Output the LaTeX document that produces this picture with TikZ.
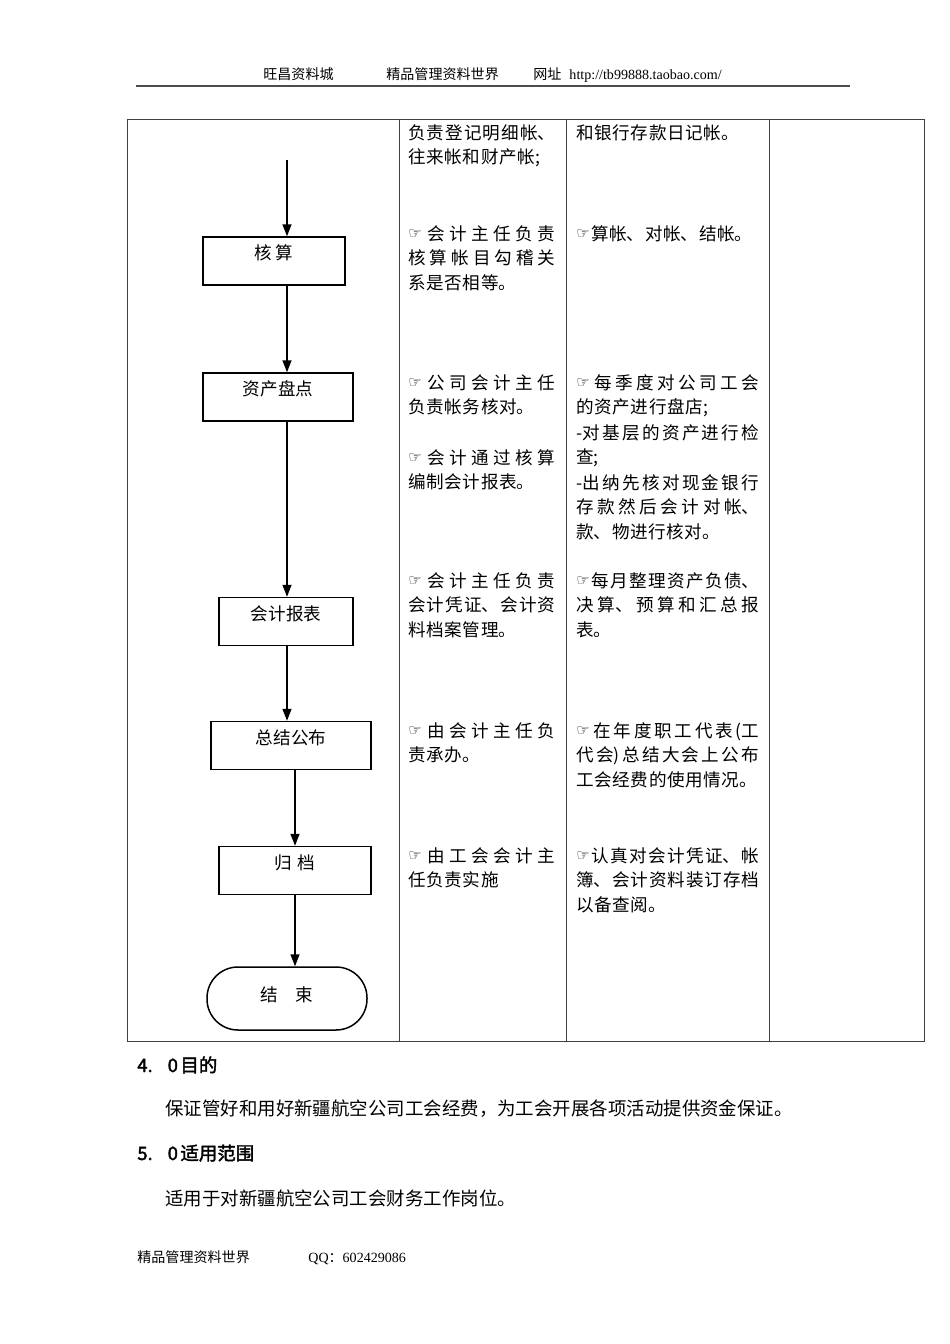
\documentclass[tikz,border=0pt]{standalone}
\usepackage{fontspec}
\setmainfont{Noto Sans CJK SC}
\newfontfamily\handfont{DejaVu Sans}
\newfontfamily\romfont{Liberation Serif}
\newfontfamily\headcjk{Noto Sans CJK SC}[FakeBold=2]
\usetikzlibrary{arrows.meta}
\XeTeXlinebreaklocale "zh"
\XeTeXlinebreakskip=0pt plus 40pt
\newcommand\hand{\raisebox{0.6pt}{\handfont\fontsize{8.5pt}{8.5pt}\selectfont ☞}\hskip 0.8pt plus 40pt\relax}
\newcommand\cellfont{\fontsize{10pt}{14.2pt}\selectfont\XeTeXlinebreakskip=0.35pt plus 40pt\relax}
\newcommand\boxfont{\fontsize{10pt}{12pt}\selectfont\XeTeXlinebreakskip=1.5pt\relax}
\newcommand\smallfont{\fontsize{8pt}{9pt}\selectfont}
\newcommand\headfont{\headcjk\fontsize{10.5pt}{12pt}\selectfont}
\newcommand\bodyfont{\fontsize{10.5pt}{12pt}\selectfont}
\begin{document}
\begin{tikzpicture}
[
    x=0.2mm, y=-0.2mm,
    >={Triangle[width=1.8mm,length=2.4mm]},
    stepbox/.style={draw, line width=0.3mm, inner sep=0pt, text height=4.5mm, text depth=5.1mm, font=\boxfont},
    endbox/.style={stepbox, rounded corners=6.2mm, text height=6.9mm, text depth=5.7mm},
    colA/.style={anchor=base west, inner sep=0pt, text width=29.4mm, align=justify, font=\cellfont},
    colB/.style={colA, text width=36.6mm},
    plain/.style={anchor=base west, inner sep=0pt},
    tablerule/.style={line width=0.2mm, draw=black!75},
]
\useasboundingbox (0,0) rectangle (950,1344);
\node[plain, font=\smallfont] (shop) at (263,80) {旺昌资料城};
\node[plain, font=\smallfont] (world) at (386,80) {精品管理资料世界};
\node[plain, font=\smallfont] (site) at (533,80) {网址\hspace{1.6mm}{\romfont http://tb99888.taobao.com/}};
\draw[line width=0.4mm, black!70] (136,86) -- (850,86);
\draw[tablerule] (127,120) rectangle (924,1041);
\foreach \xcol in {399,566,769}
    \draw[tablerule] (\xcol,120) -- (\xcol,1041);
\coordinate (top) at (287,160);
\node[stepbox, minimum width=28.4mm] (hs) at (274,261) {核 算};
\node[stepbox, minimum width=30mm] (zcpd) at (278,397) {资产盘点};
\node[stepbox, minimum width=26.8mm] (kjbb) at (286,621.5) {会计报表};
\node[stepbox, minimum width=32mm] (zjgb) at (291,745.5) {总结公布};
\node[stepbox, minimum width=30.4mm] (gd) at (295,870.5) {归\hspace{1.2mm}档};
\node[endbox, minimum width=32mm] (js) at (287,998.5) {结\hspace{3.5mm}束};
\draw[->, line width=0.3mm] (top) -- (top |- hs.north);
\draw[->, line width=0.3mm] (hs.south -| top) -- (zcpd.north -| top);
\draw[->, line width=0.3mm] (zcpd.south -| top) -- (kjbb.north -| top);
\draw[->, line width=0.3mm] (kjbb.south -| top) -- (zjgb.north -| top);
\draw[->, line width=0.3mm] (zjgb.south -| gd.north) -- (gd.north);
\draw[->, line width=0.3mm] (gd.south) -- (gd.south |- js.north);
\node[colA] (a1) at (408,139) {负责登记明细帐、\linebreak 往来帐和财产帐;};
\node[colB] (b1) at (576,139) {和银行存款日记帐。};
\node[colA] (a2) at (408,240) {\hand 会计主任负责\linebreak 核算帐目勾稽关\linebreak 系是否相等。};
\node[colB] (b2) at (576,240) {\hand 算帐、对帐、结帐。};
\node[colA] (a3) at (408,389) {\hand 公司会计主任\linebreak 负责帐务核对。};
\node[colA] (a4) at (408,464) {\hand 会计通过核算\linebreak 编制会计报表。};
\node[colB] (b3) at (576,389) {\hand 每季度对公司工会\linebreak 的资产进行盘店;};
\node[colB] (b4) at (576,439) {-对基层的资产进行检\linebreak 查;};
\node[colB] (b5) at (576,489) {-出纳先核对现金银行\linebreak 存款然后会计对帐、\linebreak 款、物进行核对。};
\node[colA] (a5) at (408,587) {\hand 会计主任负责\linebreak 会计凭证、会计资\linebreak 料档案管理。};
\node[colB] (b6) at (576,587) {\hand 每月整理资产负债、\linebreak 决算、预算和汇总报\linebreak 表。};
\node[colA] (a6) at (408,737) {\hand 由会计主任负\linebreak 责承办。};
\node[colB] (b7) at (576,737) {\hand 在年度职工代表(工\linebreak 代会)总结大会上公布\linebreak 工会经费的使用情况。};
\node[colA] (a7) at (408,862) {\hand 由工会会计主\linebreak 任负责实施};
\node[colB] (b8) at (576,862) {\hand 认真对会计凭证、帐\linebreak 簿、会计资料装订存档\linebreak 以备查阅。};
\node[plain, font=\headfont] (aim) at (137,1072) {4.\hspace{3mm}0\hspace{0.5mm}目的};
\node[plain, font=\bodyfont] (aimtext) at (165,1115) {保证管好和用好新疆航空公司工会经费，为工会开展各项活动提供资金保证。};
\node[plain, font=\headfont] (range) at (137,1160) {5.\hspace{3mm}0\hspace{0.5mm}适用范围};
\node[plain, font=\bodyfont] (rangetext) at (165,1205) {适用于对新疆航空公司工会财务工作岗位。};
\node[plain, font=\smallfont] (foot) at (137,1262) {精品管理资料世界};
\node[plain, font=\smallfont] (qq) at (308,1262) {{\romfont QQ}：{\romfont 602429086}};
\end{tikzpicture}
\end{document}
